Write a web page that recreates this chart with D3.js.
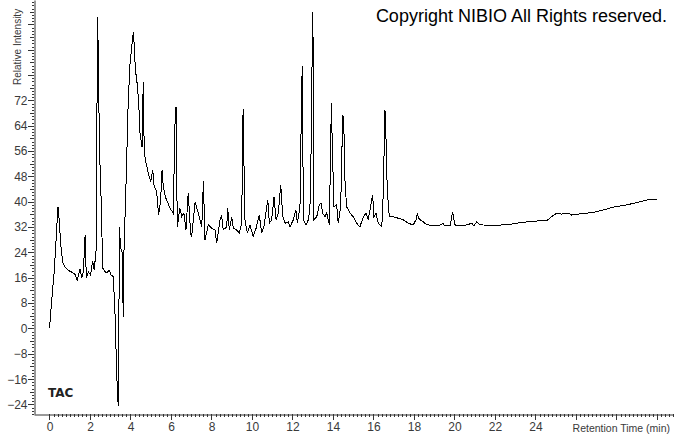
<!DOCTYPE html>
<html>
<head>
<meta charset="utf-8">
<script src="https://cdn.jsdelivr.net/npm/d3@7"></script>
<style>
  body { margin: 0; background: #fff; }
  .tick text { font-family: Arial, "Liberation Sans", sans-serif; font-size: 12px; fill: #3a3a3a; }
</style>
</head>
<body>
<script>
const width = 674,
      height = 434,
      axisLeftX = 34,
      axisBottomY = 414;

// retention time (min) and relative intensity of the TAC trace
const timeMin = [0, 0.11, 0.24, 0.39, 0.42, 0.48, 0.55, 0.65, 0.77, 0.94, 1.10, 1.26, 1.37, 1.51, 1.59, 1.67, 1.76, 1.82, 1.92, 2.03,
  2.13, 2.21, 2.30, 2.34, 2.36, 2.40, 2.47, 2.55, 2.63, 2.74, 2.85, 2.94, 3.04, 3.15, 3.23, 3.32, 3.37, 3.41, 3.45, 3.51,
  3.60, 3.64, 3.68, 3.78, 3.89, 3.98, 4.06, 4.14, 4.19, 4.24, 4.31, 4.40, 4.47, 4.57, 4.63, 4.68, 4.77, 4.88, 5.00, 5.10,
  5.16, 5.29, 5.39, 5.49, 5.56, 5.62, 5.72, 5.82, 5.95, 6.11, 6.21, 6.25, 6.31, 6.44, 6.53, 6.64, 6.74, 6.85, 6.97, 7.02,
  7.19, 7.35, 7.52, 7.60, 7.68, 7.84, 8.01, 8.17, 8.26, 8.42, 8.50, 8.58, 8.75, 8.80, 8.88, 9.00, 9.08, 9.24, 9.37, 9.49,
  9.56, 9.65, 9.77, 9.90, 10.06, 10.20, 10.36, 10.48, 10.59, 10.78, 10.86, 10.97, 11.09, 11.19, 11.30, 11.42, 11.52, 11.63, 11.79, 11.88,
  12.04, 12.17, 12.24, 12.37, 12.44, 12.48, 12.54, 12.67, 12.78, 12.86, 12.95, 12.98, 13.03, 13.06, 13.20, 13.32, 13.41, 13.49, 13.60, 13.69,
  13.82, 13.92, 13.97, 14.05, 14.18, 14.26, 14.38, 14.48, 14.53, 14.59, 14.67, 14.84, 15.00, 15.17, 15.33, 15.50, 15.63, 15.74, 15.96, 16.02,
  16.12, 16.24, 16.41, 16.49, 16.56, 16.59, 16.68, 16.78, 16.98, 17.22, 17.47, 17.72, 17.96, 18.10, 18.16, 18.26, 18.46, 18.63, 18.95, 19.28,
  19.42, 19.53, 19.78, 19.91, 20.02, 20.27, 20.60, 20.85, 20.96, 21.10, 21.26, 21.75, 22.25, 22.49, 22.66, 23.23, 23.89, 24.55, 24.80, 25.04,
  25.29, 25.62, 25.79, 26.20, 26.85, 27.35, 27.84, 28.50, 29.16, 29.65, 30.01];
const intensity = [0, 9.0, 18.5, 35.3, 38.4, 34.3, 26.9, 21.0, 19.3, 18.3, 17.8, 17.1, 15.3, 18.8, 15.9, 17.9, 29.5, 15.9, 17.8, 16.9,
  21.3, 18.5, 24.8, 56.4, 98.4, 90.2, 56.4, 40.6, 19.1, 17.9, 17.5, 18.5, 16.9, 16.4, 5.8, -14.1, -22.6, -24.5, 32.1, 25.4,
  23.7, 3.6, 24.8, 45.9, 72.1, 83.8, 89.0, 93.7, 89.0, 81.6, 78.5, 72.1, 61.6, 57.4, 77.8, 55.3, 52.2, 49.0, 46.4, 50.1,
  45.3, 43.2, 35.8, 40.6, 50.1, 44.8, 41.6, 40.0, 38.0, 36.4, 68.0, 70.0, 32.1, 38.0, 35.3, 36.4, 31.1, 42.9, 30.1, 29.0,
  40.0, 36.4, 32.1, 46.4, 27.9, 32.7, 31.6, 31.1, 26.9, 34.3, 35.8, 31.1, 32.1, 38.0, 31.1, 35.3, 31.6, 31.1, 30.1, 33.2,
  69.3, 34.3, 30.1, 32.7, 29.0, 31.6, 35.8, 30.1, 32.1, 40.6, 33.2, 34.3, 41.6, 34.3, 36.4, 45.3, 35.3, 33.2, 33.7, 32.1,
  34.3, 37.4, 33.2, 38.5, 69.9, 82.9, 34.3, 32.7, 34.3, 37.4, 66.5, 100.0, 87.9, 34.3, 35.3, 39.0, 39.5, 36.4, 35.3, 36.4,
  32.7, 71.1, 56.4, 38.5, 39.0, 33.2, 38.5, 67.4, 65.8, 46.9, 38.5, 36.4, 35.3, 33.2, 32.1, 35.3, 36.4, 34.3, 42.2, 35.3,
  36.4, 33.2, 32.1, 43.7, 69.0, 67.4, 43.7, 35.3, 35.3, 34.8, 34.3, 33.2, 32.7, 34.3, 36.1, 34.5, 33.7, 32.7, 32.6, 32.6,
  33.2, 32.4, 32.4, 36.9, 32.7, 32.4, 32.7, 33.2, 32.4, 33.7, 32.7, 32.6, 32.6, 33.0, 32.8, 33.4, 33.9, 34.0, 35.3, 36.4,
  36.1, 36.4, 35.8, 36.2, 36.6, 37.4, 38.3, 39.0, 40.0, 40.8, 40.8];

const xTickLabels = [0, 2, 4, 6, 8, 10, 12, 14, 16, 18, 20, 22, 24];
const yTickLabels = [-24, -16, -8, 0, 8, 16, 24, 32, 40, 48, 56, 64, 72];

let points = timeMin.map(function(t, i) { return {x: t, y: intensity[i]}; });

let svg = d3.select("body")
    .append("svg")
    .attr("width", width)
    .attr("height", height);

let x = d3.scaleLinear().domain([-0.765, 30.84]).range([axisLeftX, width]);
let y = d3.scaleLinear().domain([-27, 103.7]).range([axisBottomY, 0]);

// minor ticks first, labelled axes on top
let xMinor = d3.range(0, 30.81, 0.2);
svg.append("g")
    .attr("transform", "translate(0," + axisBottomY + ")")
    .selectAll("line")
    .data(xMinor)
    .enter().append("line")
    .attr("x1", function(d) { return Math.round(x(d)) + 0.5; })
    .attr("x2", function(d) { return Math.round(x(d)) + 0.5; })
    .attr("y1", 0)
    .attr("y2", function(d) { return Math.abs(d / 2 - Math.round(d / 2)) < 0.01 ? 6 : 3; })
    .attr("stroke", "#333");

let yMinor = d3.range(-27, 104, 1);
svg.append("g")
    .attr("transform", "translate(" + axisLeftX + ",0)")
    .selectAll("line")
    .data(yMinor)
    .enter().append("line")
    .attr("y1", function(d) { return Math.round(y(d)) + 0.5; })
    .attr("y2", function(d) { return Math.round(y(d)) + 0.5; })
    .attr("x1", 0)
    .attr("x2", function(d) { return d % 8 === 0 ? -6 : (d % 4 === 0 ? -4 : -2); })
    .attr("stroke", "#333");

let xAxis = d3.axisBottom(x).tickValues(xTickLabels).tickSize(0).tickPadding(8);
let yAxis = d3.axisLeft(y).tickValues(yTickLabels).tickSize(0).tickPadding(7);

svg.append("g")
    .attr("class", "x axis")
    .attr("transform", "translate(0," + (axisBottomY + 0.5) + ")")
    .call(xAxis)
    .call(function(g) { g.select(".domain").attr("stroke", "#333"); });

svg.append("g")
    .attr("class", "y axis")
    .attr("transform", "translate(" + (axisLeftX + 0.5) + ",0)")
    .call(yAxis)
    .call(function(g) { g.select(".domain").attr("stroke", "#333"); });

let line = d3.line()
    .x(function(d) { return x(d.x); })
    .y(function(d) { return y(d.y); });

svg.append("path")
    .attr("d", line(points))
    .attr("fill", "none")
    .attr("stroke", "#000")
    .attr("stroke-width", 1)
    .attr("shape-rendering", "crispEdges");

svg.append("text")
    .attr("transform", "translate(21,85)rotate(-90)")
    .style("font-family", "Arial, 'Liberation Sans', sans-serif")
    .style("font-size", "10px")
    .style("fill", "#3a3a3a")
    .text("Relative Intensity");

svg.append("text")
    .attr("x", 670)
    .attr("y", 432)
    .style("text-anchor", "end")
    .style("font-family", "Arial, 'Liberation Sans', sans-serif")
    .style("font-size", "10.5px")
    .style("fill", "#3a3a3a")
    .text("Retention Time (min)");

svg.append("text")
    .attr("x", 48)
    .attr("y", 397)
    .style("font-family", "'DejaVu Sans', Verdana, sans-serif")
    .style("font-size", "12px")
    .style("font-weight", "bold")
    .style("fill", "#222")
    .text("TAC");

svg.append("text")
    .attr("x", 667)
    .attr("y", 22)
    .style("text-anchor", "end")
    .style("font-family", "Arial, 'Liberation Sans', sans-serif")
    .style("font-size", "18px")
    .style("fill", "#000")
    .text("Copyright NIBIO All Rights reserved.");
</script>
</body>
</html>
